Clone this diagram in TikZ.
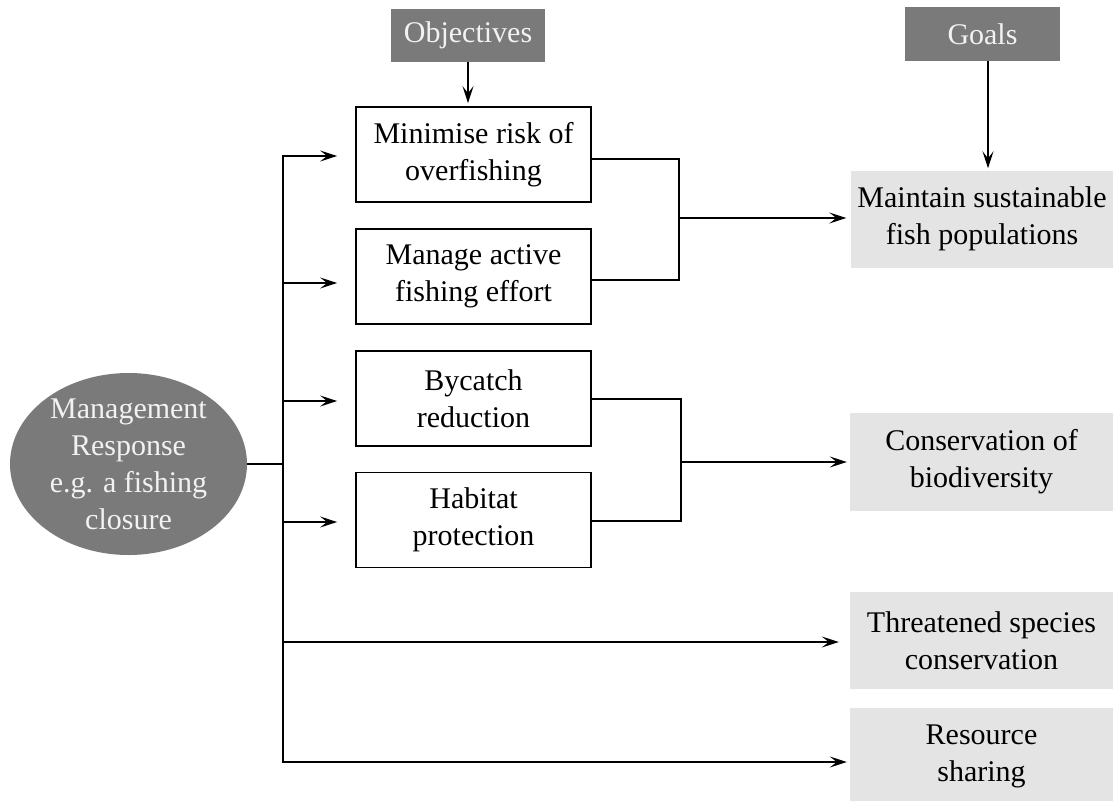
\documentclass[tikz,border=0pt]{standalone}
\usepackage{fontspec}
\setmainfont{Liberation Serif}
\newfontfamily\diagfont{Liberation Serif}
\usetikzlibrary{arrows.meta,shapes.geometric}
\definecolor{darkg}{RGB}{122,122,122}
\definecolor{lightg}{RGB}{228,228,228}
\definecolor{lightt}{RGB}{242,242,242}
\begin{document}
\begin{tikzpicture}[x=1pt,y=-1pt,
  every node/.style={font=\diagfont\fontsize{30}{37}\selectfont},
  line/.style={line width=1.8pt, line join=miter},
  arr/.style={line, -{Stealth[length=17pt,width=11pt,inset=7pt]}},
  darkbox/.style={fill=darkg, text=lightt, inner sep=0pt},
  obox/.style={draw, line width=1.8pt, minimum width=235pt, minimum height=95pt, align=center, inner sep=0pt},
  gbox/.style={fill=lightg, minimum width=263pt, minimum height=97pt, align=center, inner sep=0pt}]
\useasboundingbox (0,0) rectangle (1113,800);
\fill[white] (0,0) rectangle (1113,800);

% header boxes
\node[darkbox, minimum width=154pt, minimum height=53pt] (obj) at (468,35.5) {Objectives};
\node[darkbox, minimum width=155pt, minimum height=54pt] (goals) at (982.5,34) {Goals};

% objective boxes
\node[obox] (m1) at (473.5,154.5) {Minimise risk of\\overfishing};
\node[obox] (m2) at (473.5,276.5) {Manage active\\fishing effort};
\node[obox] (m3) at (473.5,398.5) {Bycatch\\reduction};
\node[obox] (m4) at (473.5,520) {Habitat\\protection};

% goal boxes
\node[gbox] (g1) at (982,219) {Maintain sustainable\\fish populations};
\node[gbox, minimum height=98pt] (g2) at (981.5,462) {Conservation of\\biodiversity};
\node[gbox] (g3) at (981.5,640.5) {Threatened species\\conservation};
\node[gbox] (g4) at (981.5,756.5) {Resource\\sharing};

% management response
\node[ellipse, darkbox, minimum width=237pt, minimum height=182pt] (mr) at (128.5,464) {};
\node[text=lightt, align=center, inner sep=0pt] (mrt) at (mr.center) {Management\\Response\\e.g. a fishing\\closure};

% spine coordinates
\coordinate (s1) at (283,156);
\coordinate (s2) at (283,283);
\coordinate (s3) at (283,401);
\coordinate (s4) at (283,522);
\coordinate (s5) at (283,642);
\coordinate (s6) at (283,762);
\coordinate (j) at (283,464);
\coordinate (k1) at (679,218);
\coordinate (k2) at (681,462);

% spine with first and last arrows
\draw[line, {Stealth[length=17pt,width=11pt,inset=7pt]}-{Stealth[length=17pt,width=11pt,inset=7pt]}, shorten <=18pt, shorten >=3pt]
  (s1 -| m1.west) -- (s1) -- (s6) -- (s6 -| g4.west);
\draw[line] (mr.east) -- (j);

% arrows into objectives
\draw[arr, shorten >=18pt] (s2) -- (s2 -| m2.west);
\draw[arr, shorten >=18pt] (s3) -- (s3 -| m3.west);
\draw[arr, shorten >=18pt] (s4) -- (s4 -| m4.west);
\draw[arr, shorten >=11pt] (s5) -- (s5 -| g3.west);

% joins to goals
\draw[line] ([yshift=-4.5pt]m1.east) -| (k1) |- ([yshift=-3.5pt]m2.east);
\draw[arr, shorten >=4pt] (k1) -- (k1 -| g1.west);
\draw[line] ([yshift=-0.5pt]m3.east) -| (k2) |- ([yshift=-1pt]m4.east);
\draw[arr, shorten >=3pt] (k2) -- (k2 -| g2.west);

% header arrows
\draw[arr, shorten >=3pt] (obj.south) -- (obj.south |- m1.north);
\draw[arr, shorten >=2pt] ([xshift=5.5pt]goals.south) -- ([xshift=5.5pt]goals.south |- g1.north);
\end{tikzpicture}
\end{document}
